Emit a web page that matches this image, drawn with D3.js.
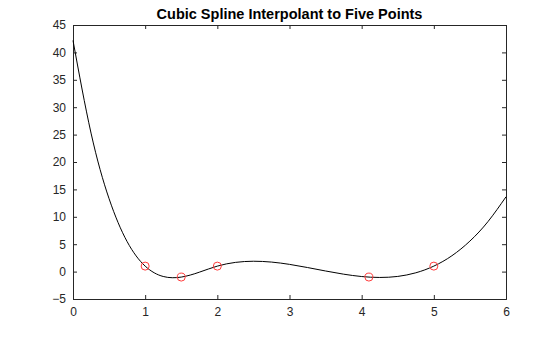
<!DOCTYPE html>
<html>
<head>
<meta charset="utf-8">
<script src="https://cdn.jsdelivr.net/npm/d3@7"></script>
<style>
  body { margin: 0; background: #fff; }
  text { font-family: "Liberation Sans", Arial, sans-serif; }
</style>
</head>
<body>
<div id="chart"></div>
<script>
// Data points
const ptX = [1, 1.5, 2, 4.1, 5];
const ptY = [1, -1, 1, -1, 1];

// Curve samples
const curveX = [0, 0.25, 0.5, 0.75, 1, 1.25, 1.5, 1.75, 2, 2.25, 2.5, 2.75, 3,
  3.25, 3.5, 3.75, 4, 4.25, 4.5, 4.75, 5, 5.25, 5.5, 5.75, 6];
const curveY = [42.18, 25.27, 13.30, 5.47, 1, -0.89, -1, -0.11, 1, 1.68, 1.89, 1.74, 1.32,
  0.74, 0.11, -0.47, -0.90, -1.07, -0.88, -0.22, 1, 2.89, 5.57, 9.12, 13.65];

const xTicks = [0, 1, 2, 3, 4, 5, 6];
const yTicks = [-5, 0, 5, 10, 15, 20, 25, 30, 35, 40, 45];

const margin = { top: 25, right: 54, bottom: 38, left: 73 };
const width = 560 - margin.left - margin.right;
const height = 337 - margin.top - margin.bottom;

const svg = d3.select("#chart")
  .append("svg")
  .attr("width", 560)
  .attr("height", 337);

const g = svg.append("g")
  .attr("transform", "translate(" + margin.left + "," + margin.top + ")");

const x = d3.scaleLinear().domain([0, 6]).range([0, width]);
const y = d3.scaleLinear().domain([-5, 45]).range([height, 0]);

// Axes with inward ticks
g.append("g")
  .attr("transform", "translate(0," + height + ")")
  .call(d3.axisBottom(x).tickValues(xTicks).tickSize(-4).tickPadding(8).tickFormat(d3.format("d")));
g.append("g")
  .call(d3.axisTop(x).tickValues(xTicks).tickSize(-4).tickFormat(""));
g.append("g")
  .call(d3.axisLeft(y).tickValues(yTicks).tickSize(-4).tickPadding(7).tickFormat(d3.format("d")));
g.append("g")
  .attr("transform", "translate(" + width + ",0)")
  .call(d3.axisRight(y).tickValues(yTicks).tickSize(-4).tickFormat(""));

g.selectAll(".domain").attr("stroke", "#262626");
g.selectAll(".tick line").attr("stroke", "#262626");
g.selectAll(".tick text").attr("fill", "#262626").style("font-size", "12px");

// Spline curve
const line = d3.line()
  .x((d, i) => x(curveX[i]))
  .y(d => y(d))
  .curve(d3.curveNatural);

g.append("path")
  .datum(curveY)
  .attr("fill", "none")
  .attr("stroke", "#000")
  .attr("stroke-width", 1)
  .attr("d", line);

// Points
g.selectAll("circle")
  .data(ptX)
  .enter()
  .append("circle")
  .attr("cx", d => x(d))
  .attr("cy", (d, i) => y(ptY[i]))
  .attr("r", 4)
  .attr("fill", "none")
  .attr("stroke", "#ff3b3b")
  .attr("stroke-width", 1);

// Title
svg.append("text")
  .attr("x", margin.left + width / 2)
  .attr("y", 19)
  .attr("text-anchor", "middle")
  .attr("font-size", "14.5px")
  .attr("font-weight", "bold")
  .attr("fill", "#000")
  .text("Cubic Spline Interpolant to Five Points");
</script>
</body>
</html>
